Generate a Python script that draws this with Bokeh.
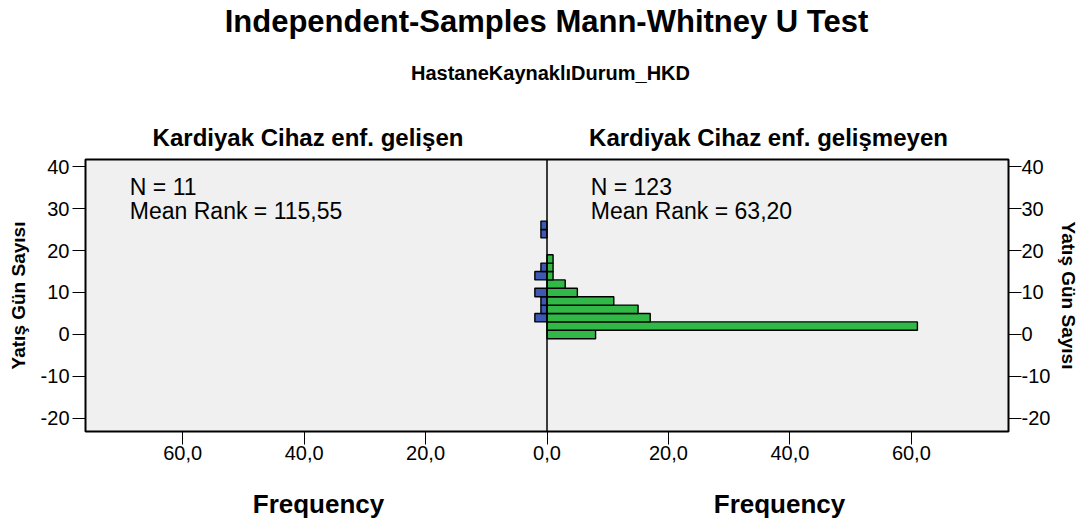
from bokeh.plotting import figure
from bokeh.models import Range1d, FixedTicker, LinearAxis, Label, Span, CustomJSTickFormatter, ColumnDataSource
from bokeh.layouts import column
from bokeh.embed import file_html
from bokeh.resources import INLINE

# ---- data ----
bin_centers = [0, 2, 4, 6, 8, 10, 12, 14, 16, 18, 20, 22, 24, 26]
gelisen_counts = [0, 0, 2, 1, 1, 2, 0, 2, 1, 0, 0, 0, 1, 1]
gelismeyen_counts = [8, 61, 17, 15, 11, 5, 3, 1, 1, 1, 0, 0, 0, 0]
bin_width = 2
group_labels = ["Kardiyak Cihaz enf. gelişen", "Kardiyak Cihaz enf. gelişmeyen"]
group_n = ["11", "123"]
group_mean_rank = ["115,55", "63,20"]
y_ticks = [-20, -10, 0, 10, 20, 30, 40]
x_ticks = [-60, -40, -20, 0, 20, 40, 60]
main_title = "Independent-Samples Mann-Whitney U Test"
sub_title = "HastaneKaynaklıDurum_HKD"
y_label = "Yatış Gün Sayısı"
x_label = "Frequency"

FONT = "Liberation Sans"
BLUE = "#3C5AB4"
GREEN = "#32B846"
FW = 923          # frame width shared by all three stacked figures
BL, BR = 85, 72   # left / right borders shared by all three


def text_panel(h):
    f = figure(frame_width=FW, frame_height=h, x_range=Range1d(0, FW), y_range=Range1d(0, h),
               toolbar_location=None, output_backend="svg",
               min_border_left=BL, min_border_right=BR, min_border_top=0, min_border_bottom=0,
               outline_line_color=None, background_fill_color="white", border_fill_color="white",
               x_axis_location=None, y_axis_location=None)
    f.grid.visible = False
    return f


def tlabel(f, x, y, text, size, bold=True):
    f.add_layout(Label(x=x, y=y, text=text, text_font=FONT, text_font_size=size,
                       text_font_style="bold" if bold else "normal",
                       text_align="center", text_baseline="middle", text_color="black"))


# ---- header: titles ----
HH = 152
header = text_panel(HH)
tlabel(header, 461, 131, main_title, "31px")
tlabel(header, 465, 80, sub_title, "20px")
tlabel(header, 222.5, 15, group_labels[0], "24px")
tlabel(header, 683, 15, group_labels[1], "24px")

# ---- main back-to-back histogram ----
p = figure(frame_width=FW, frame_height=272, x_range=Range1d(-76, 76), y_range=Range1d(-23.1, 41.67),
           toolbar_location=None, output_backend="svg",
           min_border_left=BL, min_border_right=BR, min_border_top=7, min_border_bottom=40,
           background_fill_color="#F0F0F0", border_fill_color="white",
           outline_line_color="black", outline_line_width=2)
p.grid.visible = False

left_src = ColumnDataSource(dict(
    y=[c for c, n in zip(bin_centers, gelisen_counts) if n > 0],
    right=[-n for n in gelisen_counts if n > 0],
))
right_src = ColumnDataSource(dict(
    y=[c for c, n in zip(bin_centers, gelismeyen_counts) if n > 0],
    right=[n for n in gelismeyen_counts if n > 0],
))
p.hbar(y="y", left=0, right="right", height=bin_width, source=left_src,
       fill_color=BLUE, line_color="black", line_width=1.4)
p.hbar(y="y", left=0, right="right", height=bin_width, source=right_src,
       fill_color=GREEN, line_color="black", line_width=1.4)

p.add_layout(Span(location=0, dimension="height", line_color="black", line_width=1.5))

for xpos, n, mr in [(-68.7, group_n[0], group_mean_rank[0]), (7.2, group_n[1], group_mean_rank[1])]:
    p.add_layout(Label(x=xpos, y=35.2, text="N = " + n, text_font=FONT, text_font_size="23px",
                       text_align="left", text_baseline="middle", text_color="black"))
    p.add_layout(Label(x=xpos, y=29.3, text="Mean Rank = " + mr, text_font=FONT, text_font_size="23px",
                       text_align="left", text_baseline="middle", text_color="black"))

p.xaxis.ticker = FixedTicker(ticks=x_ticks)
p.xaxis.formatter = CustomJSTickFormatter(code="return Math.abs(tick).toFixed(1).replace('.', ',');")

right_axis = LinearAxis()
p.add_layout(right_axis, "right")

for ax in [p.yaxis[0], right_axis]:
    ax.ticker = FixedTicker(ticks=y_ticks)
    ax.formatter = CustomJSTickFormatter(code="return tick.toFixed(0);")
    ax.axis_label = y_label
    ax.axis_label_text_font = FONT
    ax.axis_label_text_font_size = "19px"
    ax.axis_label_text_font_style = "bold"
    ax.axis_label_text_color = "black"

p.yaxis[0].major_label_standoff = 3
p.yaxis[0].axis_label_standoff = 9
right_axis.major_label_standoff = 0
right_axis.axis_label_standoff = 5

for ax in [p.xaxis[0], p.yaxis[0], right_axis]:
    ax.major_tick_out = 13
    ax.major_tick_in = 0
    ax.minor_tick_line_color = None
    ax.major_tick_line_color = "black"
    ax.axis_line_color = "black"
    ax.major_label_text_font = FONT
    ax.major_label_text_font_size = "20px"
    ax.major_label_text_color = "black"
p.xaxis[0].major_label_standoff = 1

# ---- footer: frequency labels ----
FH = 50
footer = text_panel(FH)
tlabel(footer, 233, 18, x_label, "26px")
tlabel(footer, 694, 18, x_label, "26px")

layout = column(header, p, footer, spacing=0)
open("out.html", "w").write(file_html(layout, INLINE))
